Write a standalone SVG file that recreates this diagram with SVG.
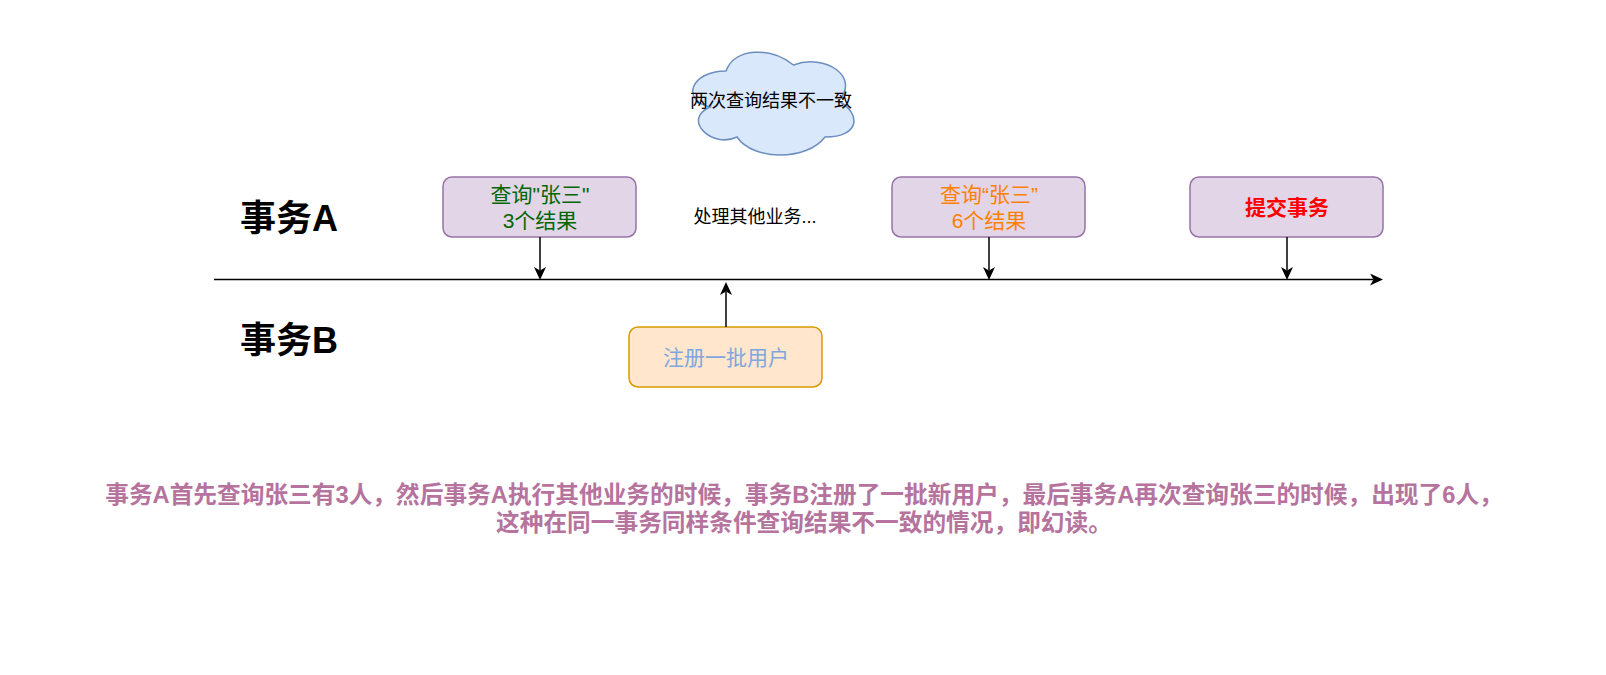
<svg xmlns="http://www.w3.org/2000/svg" width="1606" height="675" viewBox="0 0 1606 675">
<style>
text{font-family:"Liberation Sans","Noto Sans CJK SC",sans-serif;text-anchor:middle;dominant-baseline:central}
.box{fill:#e1d5e7;stroke:#9673a6;stroke-width:1.5}
.boxb{fill:#ffe6cc;stroke:#d79b00;stroke-width:1.5}
.cloud{fill:#dae8fc;stroke:#6c8ebf;stroke-width:1.5}
.line{fill:none;stroke:#000;stroke-width:1.5}
.title{font-size:36px;font-weight:bold;fill:#000}
.t18{font-size:18px;fill:#000}
.t21{font-size:21px}
.note{font-size:23.7px;font-weight:bold;fill:#B5739D}
</style>
<defs>
<marker id="arr" viewBox="0 0 13 12" refX="3.5" refY="6" markerWidth="13" markerHeight="12" markerUnits="userSpaceOnUse" orient="auto">
<path d="M0,0 L13,6 L0,12 L3.5,6 Z" fill="#000"/>
</marker>
</defs>
<rect width="1606" height="675" fill="#fff"/>
<g id="cloud">
<path class="cloud" d="M726,71 C690,71 681,101 710,107 C681,120 713,149 737,137 C753,161 807,161 825,137 C861,137 861,113 838.5,101 C861,77 825,53 793.5,65 C771,47 735,47 726,71 Z"/>
<text class="t18" x="771" y="101">两次查询结果不一致</text>
</g>
<g id="labelA"><text class="title" x="289" y="218">事务A</text></g>
<g id="labelB"><text class="title" x="289" y="340">事务B</text></g>
<g id="q1">
<rect class="box" x="443" y="177" width="193" height="60" rx="9"/>
<text class="t21" x="540" y="194" fill="#006600">查询"张三"</text>
<text class="t21" x="540" y="220" fill="#006600">3个结果</text>
</g>
<g id="other"><text class="t18" x="755" y="217">处理其他业务...</text></g>
<g id="q2">
<rect class="box" x="892" y="177" width="193" height="60" rx="9"/>
<text class="t21" x="989" y="194" fill="#FF8000">查询“张三”</text>
<text class="t21" x="989" y="220" fill="#FF8000">6个结果</text>
</g>
<g id="commit">
<rect class="box" x="1190" y="177" width="193" height="60" rx="9"/>
<text class="t21" x="1287" y="207" fill="#FF0000" font-weight="bold">提交事务</text>
</g>
<g id="reg">
<rect class="boxb" x="629" y="327" width="193" height="60" rx="9"/>
<text class="t21" x="726" y="357" fill="#7EA6E0">注册一批用户</text>
</g>
<g id="connectors">
<line class="line" x1="214" y1="279.5" x2="1373.5" y2="279.5" marker-end="url(#arr)"/>
<line class="line" x1="540" y1="237" x2="540" y2="270.5" marker-end="url(#arr)"/>
<line class="line" x1="989" y1="237" x2="989" y2="270.5" marker-end="url(#arr)"/>
<line class="line" x1="1287" y1="237" x2="1287" y2="270.5" marker-end="url(#arr)"/>
<line class="line" x1="726" y1="327" x2="726" y2="291.5" marker-end="url(#arr)"/>
</g>
<g id="note">
<text class="note" x="804" y="495">事务A首先查询张三有3人，然后事务A执行其他业务的时候，事务B注册了一批新用户，最后事务A再次查询张三的时候，出现了6人，</text>
<text class="note" x="804" y="523">这种在同一事务同样条件查询结果不一致的情况，即幻读。</text>
</g>
</svg>
